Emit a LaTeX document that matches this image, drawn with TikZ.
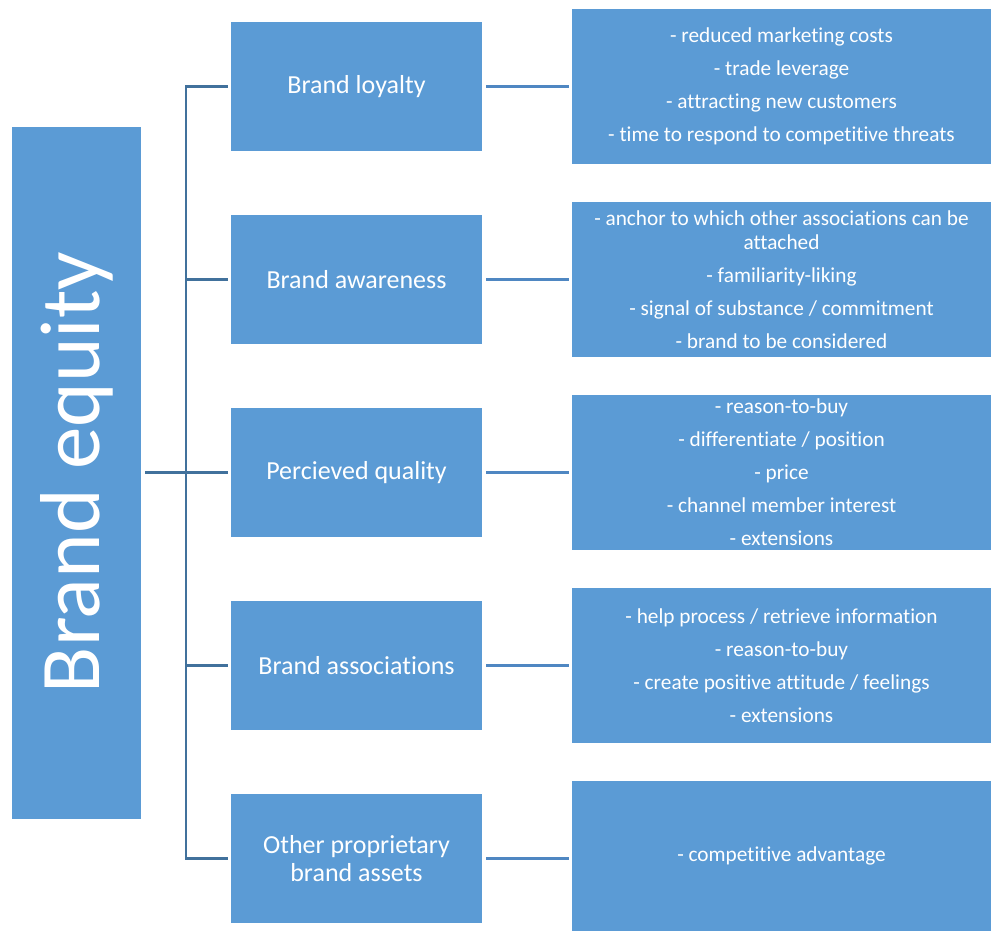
\documentclass[tikz,border=0pt]{standalone}
\usepackage{fontspec}
\setmainfont{Carlito}[Ligatures=NoCommon]
\usetikzlibrary{positioning, calc}
\definecolor{bBlue}{HTML}{5B9BD5}
\definecolor{bLine}{HTML}{41719C}
\definecolor{bLink}{HTML}{4F87C2}

\begin{document}
\begin{tikzpicture}[x=1pt, y=-1pt,
    box/.style={fill=bBlue, text=white, inner sep=0pt, align=center},
    midbox/.style={box, minimum width=251pt, minimum height=129pt, font=\fontsize{26}{30}\selectfont},
    infobox/.style={box, minimum width=419pt, minimum height=155pt, font=\fontsize{21.3}{24}\selectfont},
    bus/.style={bLine, line width=2.5pt},
    link/.style={bLink, line width=2.5pt, shorten <=4pt, shorten >=3pt}]
    \useasboundingbox (0,0) rectangle (992,932);
    % root
    \node[box, minimum width=129pt, minimum height=692pt] (be) at (76.5,472.5)
      {\rotatebox{90}{\fontsize{85}{90}\selectfont Brand equity}};
    % drivers
    \node[midbox] (bl) at (356.5,86.5) {Brand loyalty};
    \node[midbox] (ba) at (356.5,279.5) {Brand awareness};
    \node[midbox] (pq) at (356.5,472.5) {Percieved quality};
    \node[midbox] (as) at (356.5,665.5) {Brand associations};
    \node[midbox] (ob) at (356.5,858.5) {Other proprietary\\[-2pt]brand assets};
    % values
    \node[infobox] (vbl) at (781.5,86.5) {- reduced marketing costs\\[9pt]- trade leverage\\[9pt]- attracting new customers\\[9pt]- time to respond to competitive threats};
    \node[infobox] (vba) at (781.5,279.5) {- anchor to which other associations can be\\attached\\[9pt]- familiarity-liking\\[9pt]- signal of substance / commitment\\[9pt]- brand to be considered};
    \node[infobox] (vpq) at (781.5,472.5) {- reason-to-buy\\[9pt]- differentiate / position\\[9pt]- price\\[9pt]- channel member interest\\[9pt]- extensions};
    \node[infobox] (vas) at (781.5,665.5) {- help process / retrieve information\\[9pt]- reason-to-buy\\[9pt]- create positive attitude / feelings\\[9pt]- extensions};
    \node[infobox, minimum height=150pt] (vob) at (781.5,856) {- competitive advantage};
    % bracket
    \coordinate (top) at (186,86.5);
    \draw[bus] ($(be.east)+(4,0)$) -- (be.east -| top);
    \draw[bus] ($(bl.west)+(-3,0)$) -- (top) |- ($(ob.west)+(-3,0)$);
    \foreach \n in {ba,pq,as}
      \draw[bus] ($(\n.west)+(-3,0)$) -- (\n.west -| top);
    \foreach \n in {bl,ba,pq,as,ob}
      \draw[link] (\n.east) -- (\n.east -| v\n.west);
\end{tikzpicture}
\end{document}
